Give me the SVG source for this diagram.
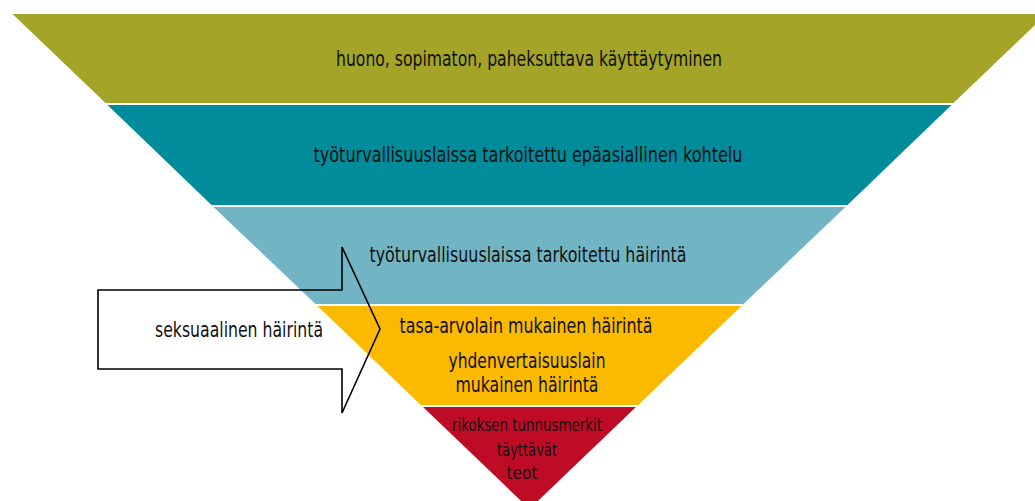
<svg xmlns="http://www.w3.org/2000/svg" width="1035" height="501" viewBox="0 0 1035 501">
<style>
.t{font-family:"Liberation Sans Narrow","DejaVu Sans Condensed","Roboto",sans-serif;font-stretch:condensed;font-size:22px;fill:#111;text-anchor:middle}
.s{font-size:18px}
</style>
<rect width="1035" height="501" fill="#fff"/>
<g id="level1">
<polygon points="12.5,14 1046.5,14 953.5,103 105.5,103" fill="#A3A428"/>
<text class="t" x="529" y="66" textLength="386" lengthAdjust="spacingAndGlyphs">huono, sopimaton, paheksuttava käyttäytyminen</text>
</g>
<g id="level2">
<polygon points="107.5,105 951.5,105 847.5,205 211.5,205" fill="#008C9B"/>
<text class="t" x="528" y="162" textLength="429" lengthAdjust="spacingAndGlyphs">työturvallisuuslaissa tarkoitettu epäasiallinen kohtelu</text>
</g>
<g id="level3">
<polygon points="213.5,207 845.5,207 743.5,304 315.5,304" fill="#71B5C4"/>
<text class="t" x="528" y="262" textLength="317" lengthAdjust="spacingAndGlyphs">työturvallisuuslaissa tarkoitettu häirintä</text>
</g>
<g id="level4">
<polygon points="317.5,306 741.5,306 638.2,405 420.8,405" fill="#FBBA00"/>
<text class="t" x="526" y="333" textLength="253" lengthAdjust="spacingAndGlyphs">tasa-arvolain mukainen häirintä</text>
<text class="t" x="527" y="368" textLength="157" lengthAdjust="spacingAndGlyphs">yhdenvertaisuuslain</text>
<text class="t" x="527" y="392" textLength="143" lengthAdjust="spacingAndGlyphs">mukainen häirintä</text>
</g>
<g id="level5">
<polygon points="423,407 636,407 529.5,509" fill="#BE0C27"/>
<text class="t s" x="527" y="431" textLength="150" lengthAdjust="spacingAndGlyphs">rikoksen tunnusmerkit</text>
<text class="t s" x="527" y="456" textLength="60" lengthAdjust="spacingAndGlyphs">täyttävät</text>
<text class="t s" x="522" y="479" textLength="31" lengthAdjust="spacingAndGlyphs">teot</text>
</g>
<g id="arrow">
<polygon points="98,290 342,290 342,247 380,329 342,413 342,369 98,369" fill="none" stroke="#000" stroke-width="1.6"/>
<text class="t" x="239" y="337" textLength="168" lengthAdjust="spacingAndGlyphs">seksuaalinen häirintä</text>
</g>
</svg>
